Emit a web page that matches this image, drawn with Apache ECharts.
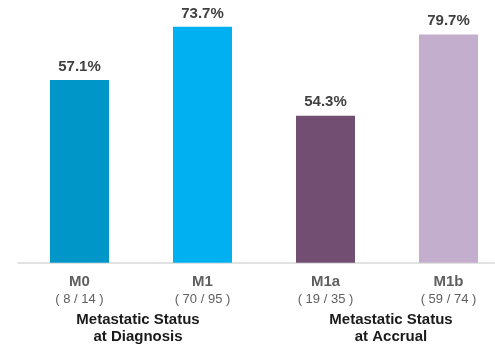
<!DOCTYPE html>
<html>
<head>
<meta charset="utf-8">
<script src="https://cdn.jsdelivr.net/npm/echarts@6/dist/echarts.min.js"></script>
<style>
  html, body { margin: 0; padding: 0; background: #ffffff; }
  #chart { width: 495px; height: 344px; }
</style>
</head>
<body>
<div id="chart"></div>
<script>
// Response rate by metastatic status
const categories = ['M0', 'M1', 'M1a', 'M1b'];
const counts = ['( 8 / 14 )', '( 70 / 95 )', '( 19 / 35 )', '( 59 / 74 )'];
const diagnosisRates = [57.1, 73.7, '-', '-'];
const accrualRates = ['-', '-', 54.3, 79.7];
const barColors = ['#0096c8', '#00b0f0', '#724f72', '#c3afcd'];
const groupTitles = ['Metastatic Status\nat Diagnosis', 'Metastatic Status\nat Accrual'];

const FONT = '"Liberation Sans", Arial, sans-serif';

function coloured(values) {
  return values.map((v, i) => v === '-' ? v : { value: v, itemStyle: { color: barColors[i] } });
}

const valueLabel = {
  show: true,
  position: 'top',
  distance: 6,
  formatter: p => p.value.toFixed(1) + '%',
  fontFamily: FONT,
  fontSize: 15,
  fontWeight: 'bold',
  color: '#404040'
};

const chart = echarts.init(document.getElementById('chart'), null, { renderer: 'canvas' });
chart.setOption({
  animation: false,
  backgroundColor: '#ffffff',
  grid: { left: 18, right: -15, top: 6.7, bottom: 81.3, containLabel: false, outerBoundsMode: 'none' },
  xAxis: {
    type: 'category',
    data: categories,
    axisTick: { show: false },
    axisLine: { show: true, lineStyle: { color: '#d9d9d9', width: 1.5 } },
    axisLabel: {
      margin: 10,
      interval: 0,
      formatter: (v, i) => '{a|' + v + '}\n{b|' + counts[i] + '}',
      rich: {
        a: { fontFamily: FONT, fontSize: 15, fontWeight: 'bold', color: '#5f5f5f', lineHeight: 18 },
        b: { fontFamily: FONT, fontSize: 13, color: '#5f5f5f', lineHeight: 17 }
      }
    }
  },
  yAxis: [
    { type: 'value', min: 0, max: 80, show: false, splitLine: { show: false } },
    { type: 'value', min: 8.4, max: 88.4, show: false, splitLine: { show: false } }
  ],
  series: [
    {
      type: 'bar', yAxisIndex: 0, barWidth: 59, barGap: '-100%',
      data: coloured(diagnosisRates), label: valueLabel
    },
    {
      type: 'bar', yAxisIndex: 1, barWidth: 59, barGap: '-100%',
      data: coloured(accrualRates), label: valueLabel
    }
  ],
  graphic: [
    {
      type: 'text', x: 138, y: 311, style: {
        text: groupTitles[0], align: 'center', verticalAlign: 'top',
        fontFamily: FONT, fontSize: 15, fontWeight: 'bold', fill: '#1a1a1a', lineHeight: 17
      }
    },
    {
      type: 'text', x: 391, y: 311, style: {
        text: groupTitles[1], align: 'center', verticalAlign: 'top',
        fontFamily: FONT, fontSize: 15, fontWeight: 'bold', fill: '#1a1a1a', lineHeight: 17
      }
    }
  ]
});
</script>
</body>
</html>
